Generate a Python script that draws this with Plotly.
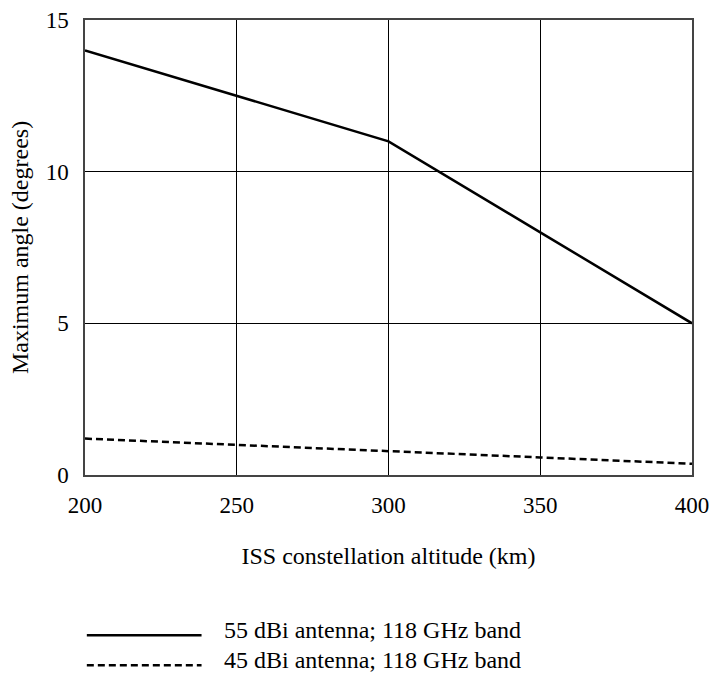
import plotly.graph_objects as go

altitude = [200, 250, 300, 350, 400]
angle_55dbi = [14, 12.5, 11, 8, 5]
angle_45dbi = [1.2, 1.0, 0.78, 0.58, 0.37]
names = ["55 dBi antenna; 118 GHz band", "45 dBi antenna; 118 GHz band"]
dashes = ["solid", "7px,4px"]

fig = go.Figure()
fig.add_trace(go.Scatter(x=altitude, y=angle_55dbi, mode="lines", name=names[0],
                         line=dict(color="black", width=2.5, dash=dashes[0])))
fig.add_trace(go.Scatter(x=altitude, y=angle_45dbi, mode="lines", name=names[1],
                         line=dict(color="black", width=2.5, dash=dashes[1])))

# legend drawn by hand, plotly's legend symbol is too short
leg_y = [-0.352, -0.418]
for i in range(2):
    fig.add_shape(type="line", xref="paper", yref="paper", x0=0.003, x1=0.192,
                  y0=leg_y[i], y1=leg_y[i],
                  line=dict(color="black", width=2.5, dash=dashes[i]))
    fig.add_annotation(xref="paper", yref="paper", x=0.226, y=leg_y[i], yshift=-10,
                       text=names[i], showarrow=False, xanchor="left",
                       font=dict(size=24, color="black"))

fig.update_layout(
    width=712, height=682,
    margin=dict(l=85, r=20, t=20, b=207),
    plot_bgcolor="white", paper_bgcolor="white",
    font=dict(family="Liberation Serif", size=23, color="black"),
    showlegend=False,
)
fig.update_xaxes(range=[200, 400], tickvals=[200, 250, 300, 350, 400],
                 showgrid=True, gridcolor="black", gridwidth=1,
                 showline=True, linecolor="#444", linewidth=1.5, mirror=True,
                 zeroline=False, ticks="", ticklabelstandoff=9, automargin=False,
                 title=dict(text="ISS constellation altitude (km)", standoff=30,
                            font=dict(size=24)))
fig.update_yaxes(range=[0, 15], tickvals=[0, 5, 10, 15],
                 showgrid=True, gridcolor="black", gridwidth=1,
                 showline=True, linecolor="#444", linewidth=1.5, mirror=True,
                 zeroline=False, ticks="", ticklabelstandoff=10, automargin=False,
                 title=dict(text="Maximum angle (degrees)", standoff=10,
                            font=dict(size=24)))

# drop the browser's default body margin so the figure sits at the page corner
fig.write_html("out.html", config={"displayModeBar": False},
               post_script="document.body.style.margin='0';")
